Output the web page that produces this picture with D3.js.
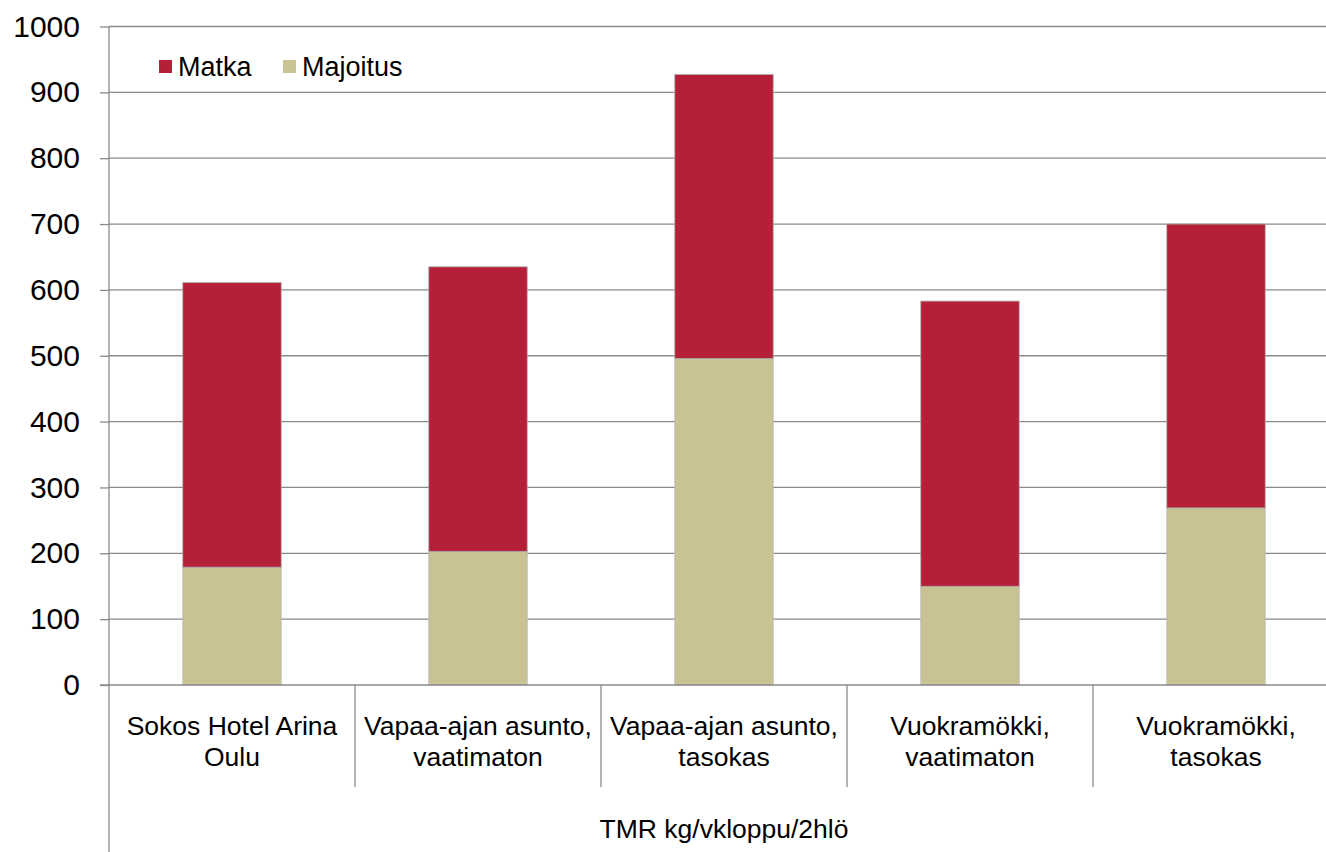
<!DOCTYPE html>
<html><head><meta charset="utf-8">
<script src="https://cdn.jsdelivr.net/npm/d3@7"></script>
<style>html,body{margin:0;padding:0;background:#fff;overflow:hidden}svg{display:block;font-family:"Liberation Sans",Arial,sans-serif}</style>
</head><body>
<svg id="c" width="1326" height="852"></svg>
<script>
const categories = [["Sokos Hotel Arina","Oulu"],["Vapaa-ajan asunto,","vaatimaton"],["Vapaa-ajan asunto,","tasokas"],["Vuokramökki,","vaatimaton"],["Vuokramökki,","tasokas"]];
const majoitus = [179, 203, 496, 150, 269];
const matka = [432, 432, 431, 433, 431];
const seriesNames = ["Matka", "Majoitus"];
const seriesColors = ["#B51F38", "#C9C292"];
const yTicks = [0,100,200,300,400,500,600,700,800,900,1000];
const axisTitle = "TMR kg/vkloppu/2hlö";

const svg = d3.select("#c");
const L = 109, R = 1339, T = 26.5, B = 685;
const x = d3.scaleBand().domain(d3.range(categories.length)).range([L, R]).padding(0);
const y = d3.scaleLinear().domain([0, 1000]).range([B, T]);
const grid = "#8a8a8a";

// gridlines
svg.append("g").selectAll("line").data(yTicks.filter(d=>d>0)).join("line")
  .attr("x1", L).attr("x2", R).attr("y1", d=>y(d)).attr("y2", d=>y(d))
  .attr("stroke", grid).attr("stroke-width", 1.3);

// y axis
const ya = svg.append("g").attr("transform", `translate(${L},0)`)
  .call(d3.axisLeft(y).tickValues(yTicks).tickFormat(d3.format("d")).tickSize(9).tickPadding(20));
ya.select(".domain").remove();
ya.selectAll(".tick line").attr("stroke", grid).attr("stroke-width", 1.3);
ya.selectAll(".tick text").attr("font-size", 30).attr("fill", "#000").attr("font-family", "Liberation Sans, Arial, sans-serif");
svg.append("line").attr("x1", L).attr("x2", L).attr("y1", T).attr("y2", 852).attr("stroke", grid).attr("stroke-width", 1.3);

// bars
const bw = x.bandwidth() * 0.4;
const data = categories.map((c,i)=>({i, maj: majoitus[i], mat: matka[i]}));
const g = svg.append("g");
g.selectAll("rect.maj").data(data).join("rect").attr("class","maj")
  .attr("x", d=>x(d.i)+(x.bandwidth()-bw)/2).attr("width", bw)
  .attr("y", d=>y(d.maj)).attr("height", d=>y(0)-y(d.maj))
  .attr("fill", seriesColors[1]).attr("stroke", "#b8b8b8").attr("stroke-width", 0.8);
g.selectAll("rect.mat").data(data).join("rect").attr("class","mat")
  .attr("x", d=>x(d.i)+(x.bandwidth()-bw)/2).attr("width", bw)
  .attr("y", d=>y(d.maj+d.mat)).attr("height", d=>y(d.maj)-y(d.maj+d.mat))
  .attr("fill", seriesColors[0]).attr("stroke", "#a8a8a8").attr("stroke-width", 0.8);

// x axis line
svg.append("line").attr("x1", 100).attr("x2", R).attr("y1", B).attr("y2", B).attr("stroke", grid).attr("stroke-width", 1.5);
// dividers
svg.append("g").selectAll("line").data(d3.range(1, categories.length+1)).join("line")
  .attr("x1", d=>x(d)===undefined? R : x(d)).attr("x2", d=>x(d)===undefined? R : x(d))
  .attr("y1", B).attr("y2", 787).attr("stroke", grid).attr("stroke-width", 1.3);

// category labels
const cl = svg.append("g").selectAll("text").data(categories).join("text")
  .attr("text-anchor", "middle").attr("font-size", 26.5).attr("fill", "#000");
cl.each(function(c,i){
  const t = d3.select(this);
  c.forEach((line, k)=>{
    t.append("tspan").attr("x", x(i)+x.bandwidth()/2).attr("y", 735 + k*31).text(line);
  });
});

// axis title
svg.append("text").attr("x", (L+R)/2 + 0).attr("y", 838).attr("text-anchor", "middle")
  .attr("font-size", 26.5).attr("fill", "#000").text(axisTitle);

// legend
const legX = [159, 283];
const lg = svg.append("g").selectAll("g").data(seriesNames).join("g")
  .attr("transform", (d,i)=>`translate(${legX[i]},0)`);
lg.append("rect").attr("x", 0).attr("y", 60).attr("width", 13).attr("height", 13)
  .attr("fill", (d,i)=>seriesColors[i]);
lg.append("text").attr("x", 19).attr("y", 76).attr("font-size", 27).attr("fill", "#000").text(d=>d);
</script>
</body></html>
